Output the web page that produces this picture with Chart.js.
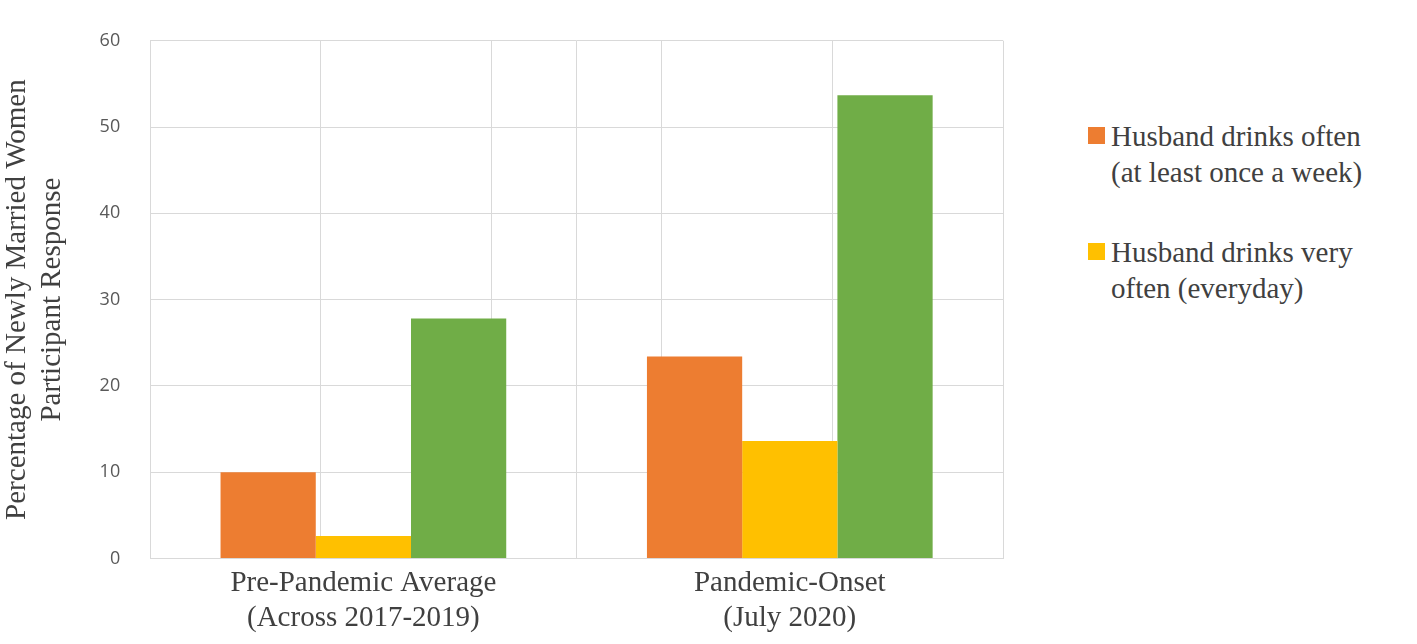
<!DOCTYPE html>
<html><head><meta charset="utf-8">
<script src="https://cdn.jsdelivr.net/npm/chart.js@4"></script>
<style>
body{margin:0;background:#fff;width:1417px;height:644px;overflow:hidden;position:relative}
#wrap{position:absolute;left:0;top:0;width:1040px;height:644px}
#legend{position:absolute;left:1088px;top:118px;font-family:"Liberation Serif";font-size:29px;color:#404040;line-height:36px}
.item{display:flex;align-items:flex-start;margin-bottom:44px}
.sw{width:17px;height:17px;margin-top:9px;margin-right:6px;flex:none}
</style></head><body>
<div id="wrap"><canvas id="c" width="1040" height="644"></canvas></div>
<div id="legend"></div>
<script>
const categories=[["Pre-Pandemic Average","(Across 2017-2019)"],["Pandemic-Onset","(July 2020)"]];
const seriesNames=[["Husband drinks often","(at least once a week)"],["Husband drinks very","often (everyday)"],["Husband drinks (any)"]];
const often=[10,23.4];
const veryOften=[2.6,13.6];
const third=[27.8,53.7];
const colors=["#ED7D31","#FFC000","#70AD47"];
const yTicks=[0,10,20,30,40,50,60];
const leg=document.getElementById('legend');
[0,1].forEach(i=>{leg.innerHTML+=`<div class="item"><div class="sw" style="background:${colors[i]}"></div><div>${seriesNames[i].join('<br>')}</div></div>`;});
new Chart(document.getElementById('c'),{type:'bar',
data:{labels:categories,datasets:[
{label:seriesNames[0].join(' '),data:often,backgroundColor:colors[0]},
{label:seriesNames[1].join(' '),data:veryOften,backgroundColor:colors[1]},
{label:seriesNames[2].join(' '),data:third,backgroundColor:colors[2]}]},
options:{responsive:false,animation:false,devicePixelRatio:1,
categoryPercentage:0.67,barPercentage:1,
layout:{padding:{top:40,right:37,left:0,bottom:0}},
plugins:{legend:{display:false},tooltip:{enabled:false}},
scales:{
x:{grid:{offset:true,color:'#D9D9D9',drawTicks:false},border:{color:'#D9D9D9'},
ticks:{font:{family:'Liberation Serif',size:29},color:'#404040',padding:8}},
x2:{type:'linear',min:0,max:4,position:'bottom',display:true,grid:{color:'#D9D9D9',drawTicks:false},border:{display:false},ticks:{display:false,stepSize:1}},
y:{min:0,max:60,afterBuildTicks:a=>{a.ticks=yTicks.map(v=>({value:v}));},
grid:{color:'#D9D9D9',drawTicks:false},border:{display:false},
ticks:{font:{family:'Open Sans',size:18},color:'#595959',padding:30},
title:{display:true,text:['Percentage of Newly Married Women','Participant Response'],font:{family:'Liberation Serif',size:29},color:'#404040',padding:0}}}},
});
</script></body></html>
